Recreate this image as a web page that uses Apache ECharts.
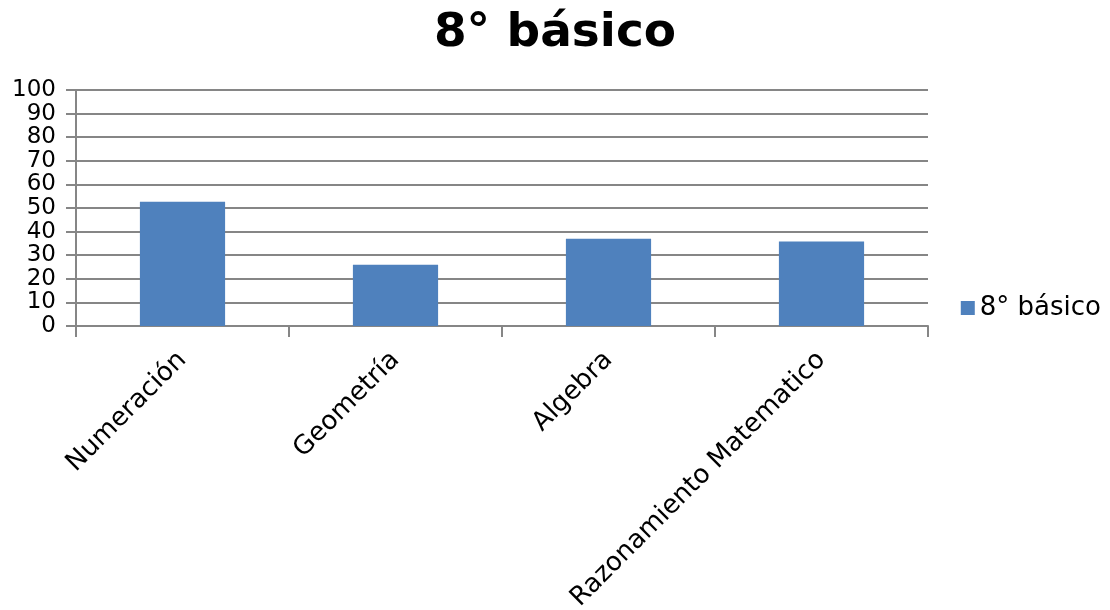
<!DOCTYPE html>
<html><head><meta charset="utf-8">
<script src="https://cdn.jsdelivr.net/npm/echarts@6/dist/echarts.min.js"></script>
<style>html,body{margin:0;padding:0;background:#fff}#c{width:1110px;height:610px}</style>
</head><body><div id="c"></div>
<script>
const categories = ["Numeración", "Geometría", "Algebra", "Razonamiento Matematico"];
const seriesName = "8° básico";
const values = [52.7, 26, 37, 35.8];
const titleText = "8° básico";

const chart = echarts.init(document.getElementById('c'));
const font = 'DejaVu Sans';
chart.setOption({
  animation: false,
  title: {text: titleText, left: 'center', top: 5, textStyle: {fontFamily: font, fontSize: 47, fontWeight: 'bold', color: '#000'}},
  legend: {data: [seriesName], right: 4, top: 290, orient: 'vertical', itemWidth: 14, itemHeight: 14, itemGap: 8,
    textStyle: {fontFamily: font, fontSize: 26, color: '#000'}, icon: 'rect'},
  grid: {left: 76, right: 182, top: 90, bottom: 284, containLabel: false, outerBoundsMode: 'none'},
  xAxis: {type: 'category', data: categories,
    axisLine: {lineStyle: {color: '#868686', width: 2}},
    axisTick: {show: true, length: 11, lineStyle: {color: '#868686', width: 2}},
    axisLabel: {rotate: 45, fontFamily: font, fontSize: 26, color: '#000', margin: 30, interval: 0, hideOverlap: false}},
  yAxis: {type: 'value', min: 0, max: 100, interval: 10,
    axisLine: {show: true, lineStyle: {color: '#868686', width: 2}},
    axisTick: {show: true, length: 10, lineStyle: {color: '#868686', width: 2}},
    splitLine: {lineStyle: {color: '#868686', width: 2}},
    axisLabel: {fontFamily: font, fontSize: 23, color: '#000', margin: 20, showMinLabel: true, showMaxLabel: true, hideOverlap: false}},
  series: [{name: seriesName, type: 'bar', data: values, barWidth: '40%', itemStyle: {color: '#4F81BD'}}]
});
</script></body></html>
